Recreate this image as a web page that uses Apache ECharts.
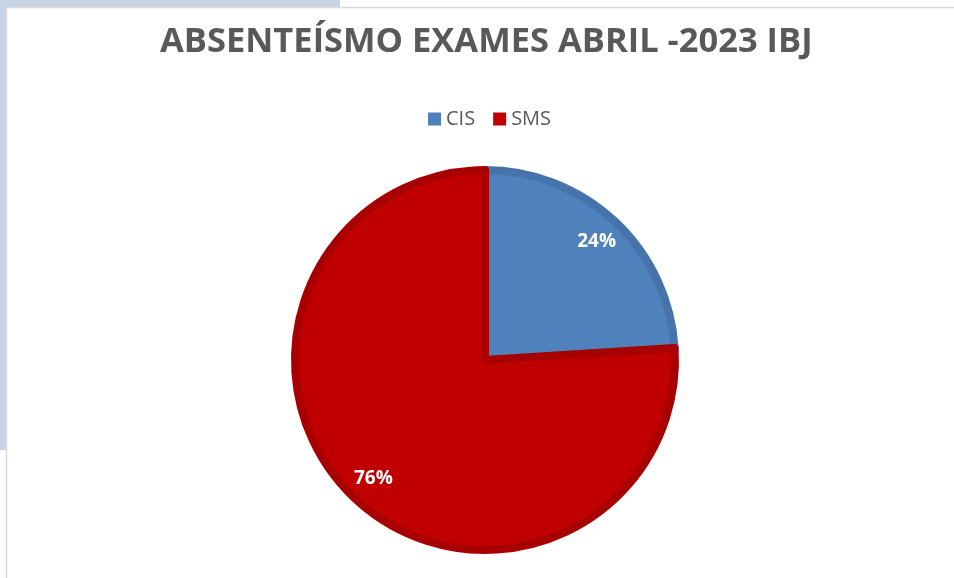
<!DOCTYPE html>
<html>
<head>
<meta charset="utf-8">
<script src="https://cdn.jsdelivr.net/npm/echarts@6/dist/echarts.min.js"></script>
<style>
  html, body { margin: 0; padding: 0; background: #fff; }
  #chart { width: 954px; height: 578px; }
</style>
</head>
<body>
<div id="chart"></div>
<script>
const categories = ['CIS', 'SMS']
const values = [24, 76]
const fillColors = ['#4f81bd', '#c00000']
const edgeColors = ['#4674aa', '#a80000']

const fontFamily = '"Open Sans", "Liberation Sans", sans-serif'

const pieData = categories.map((name, i) => ({
  name,
  value: values[i],
  itemStyle: { color: fillColors[i], borderColor: edgeColors[i] }
}))

const chart = echarts.init(document.getElementById('chart'))
chart.setOption({
  animation: false,
  // page backdrop around the chart frame
  graphic: [
    { type: 'rect', shape: { x: 0, y: 0, width: 340, height: 7 }, style: { fill: '#c6d4e6' }, silent: true },
    { type: 'rect', shape: { x: 0, y: 0, width: 6, height: 450 }, style: { fill: '#c6d4e6' }, silent: true },
    { type: 'rect', shape: { x: 6.5, y: 7.5, width: 960, height: 600 }, style: { fill: 'none', stroke: '#d9d9d9', lineWidth: 1.5 }, silent: true }
  ],
  title: {
    text: 'ABSENTEÍSMO EXAMES ABRIL -2023 IBJ',
    left: 155,
    top: 20,
    textStyle: { fontFamily, fontSize: 34.5, fontWeight: 'bold', color: '#595959' }
  },
  legend: {
    data: categories,
    top: 104,
    left: 423,
    itemWidth: 13,
    itemHeight: 13,
    itemGap: 18,
    icon: 'rect',
    itemStyle: { borderWidth: 0 },
    textStyle: { fontFamily, fontSize: 20, color: '#595959' }
  },
  series: [
    {
      type: 'pie',
      center: [485, 360],
      radius: [0, 190],
      startAngle: 90,
      clockwise: true,
      silent: true,
      label: { show: false },
      labelLine: { show: false },
      itemStyle: { borderWidth: 8 },
      data: pieData
    },
    {
      // transparent ring used only to place the labels further out
      type: 'pie',
      center: [485, 360],
      radius: [127, 193],
      startAngle: 90,
      clockwise: true,
      silent: true,
      itemStyle: { color: 'transparent', borderWidth: 0 },
      label: {
        show: true,
        position: 'inside',
        formatter: p => p.value + '%',
        fontFamily,
        fontSize: 19,
        fontWeight: 'bold',
        color: '#fff'
      },
      labelLine: { show: false },
      data: categories.map((name, i) => ({ name, value: values[i] }))
    }
  ]
})
</script>
</body>
</html>
